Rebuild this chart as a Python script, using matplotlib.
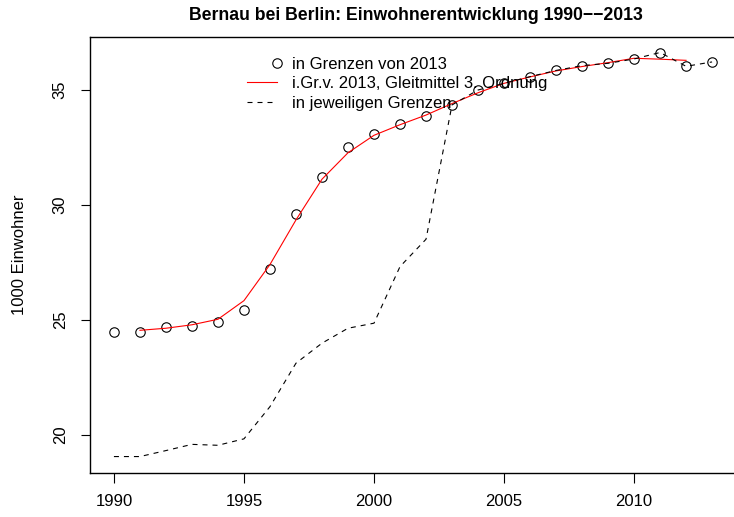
import numpy as np
import matplotlib
matplotlib.use("Agg")
import matplotlib.pyplot as plt
from matplotlib.legend_handler import HandlerLine2DCompound
from matplotlib.lines import Line2D

plt.rcParams['font.family'] = ['Liberation Sans', 'DejaVu Sans']

# ---- data (1000 Einwohner) ----
years = list(range(1990, 2014))
grenzen_2013 = [24.49, 24.47, 24.70, 24.75, 24.91, 25.42, 27.20, 29.61, 31.23, 32.51,
                33.07, 33.51, 33.88, 34.35, 35.00, 35.29, 35.58, 35.85, 36.06, 36.16,
                36.35, 36.63, 36.03, 36.22]
gleit_years = list(range(1991, 2013))
gleitmittel = [24.55, 24.64, 24.79, 25.03, 25.84, 27.41, 29.35, 31.12, 32.27, 33.03,
               33.49, 33.91, 34.41, 34.88, 35.29, 35.57, 35.83, 36.02, 36.19, 36.38,
               36.34, 36.29]
jeweilige = [19.06, 19.06, 19.32, 19.59, 19.55, 19.83, 21.23, 23.12, 23.99, 24.64,
             24.86, 27.32, 28.51, 34.35, 35.00, 35.29, 35.58, 35.85, 36.06, 36.16,
             36.35, 36.63, 36.03, 36.22]
x_ticks = [1990, 1995, 2000, 2005, 2010]
y_ticks = [20, 25, 30, 35]
labels = ["in Grenzen von 2013", "i.Gr.v. 2013, Gleitmittel 3. Ordnung",
          "in jeweiligen Grenzen"]
title = "Bernau bei Berlin: Einwohnerentwicklung 1990\u2212\u22122013"
ylabel = "1000 Einwohner"

W, H = 734, 517
fig = plt.figure(figsize=(W / 100, H / 100), dpi=100)
left, right, top, bottom = 90, 736, 36.6, 472.7
ax = fig.add_axes([left / W, 1 - bottom / H, (right - left) / W, (bottom - top) / H])

ax.plot(years, grenzen_2013, linestyle='none', marker='o', markersize=6.8,
        markerfacecolor='none', markeredgecolor='black', markeredgewidth=0.8)
ax.plot(gleit_years, gleitmittel, color='#ff0000', linewidth=0.8)
ax.plot(years, jeweilige, color='black', linewidth=0.8, linestyle=(0, (4.5, 4.5)))

ax.set_xlim(1989.08, 2013.92)
ax.set_ylim(18.358, 37.322)
ax.set_xticks(x_ticks)
ax.set_yticks(y_ticks)
ax.set_xticklabels([str(v) for v in x_ticks])
ax.set_yticklabels([str(v) for v in y_ticks], rotation=90, va='center')
ax.tick_params(axis='x', length=7.5, width=0.8, pad=8, labelsize=12)
ax.tick_params(axis='y', length=6.5, width=0.8, pad=9.5, labelsize=12)
for s in ax.spines.values():
    s.set_linewidth(1.0)
ax.spines['right'].set_visible(False)

ax.set_ylabel(ylabel, fontsize=12)
ax.yaxis.set_label_coords(-0.098, 0.5)

fig.text(416 / W, 1 - 15 / H, title, ha='center', va='center',
         fontsize=12.7, fontweight='bold')


class RightMarker(HandlerLine2DCompound):
    def get_xdata(self, legend, xdescent, ydescent, width, height, fontsize):
        xd = np.array([-xdescent, -xdescent + width])
        xm = np.array([-xdescent + width])
        return xd, xm


h1 = Line2D([], [], linestyle='none', marker='o', markersize=6.8,
            markerfacecolor='none', markeredgecolor='black', markeredgewidth=0.8)
h2 = Line2D([], [], color='#ff0000', linewidth=0.8)
h3 = Line2D([], [], color='black', linewidth=0.8, linestyle=(0, (4.5, 4.5)))
ax.legend([h1, h2, h3], labels, loc='upper left',
          bbox_to_anchor=(246.7 / W, 1 - 57 / H), bbox_transform=fig.transFigure,
          frameon=False, fontsize=12, borderpad=0, borderaxespad=0,
          handlelength=1.8, handletextpad=0.9, labelspacing=0.26,
          handler_map={h1: RightMarker(numpoints=1)})

fig.savefig("out.png", dpi=100)
